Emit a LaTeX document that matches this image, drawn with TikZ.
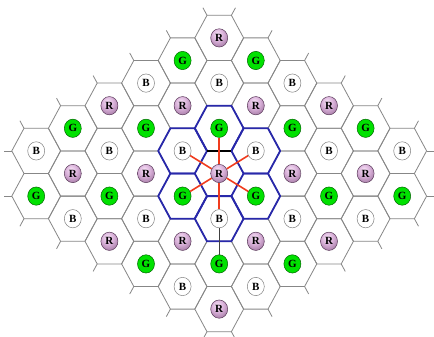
\documentclass[tikz,border=0pt]{standalone}
\usepackage{fontspec}
\usetikzlibrary{shapes.geometric}
\setmainfont{Liberation Serif}
\definecolor{hexgray}{RGB}{135,135,135}
\definecolor{hexblue}{RGB}{40,40,170}
\definecolor{linkred}{RGB}{240,60,30}
\definecolor{ggreen}{RGB}{0,225,0}
\definecolor{rlight}{RGB}{248,225,248}
\definecolor{rmid}{RGB}{215,175,215}
\definecolor{rdark}{RGB}{125,80,125}
\definecolor{bedge}{RGB}{215,215,215}
\pgfdeclareradialshading{rball}{\pgfqpoint{-6bp}{12bp}}{color(0bp)=(rlight); color(18bp)=(rmid); color(46bp)=(rdark); color(80bp)=(rdark)}
\pgfdeclareradialshading{bball}{\pgfqpoint{-6bp}{12bp}}{color(0bp)=(white); color(32bp)=(white); color(55bp)=(bedge); color(80bp)=(bedge)}
\tikzset{
  cell/.style={ellipse, minimum width=17pt, minimum height=18.3pt, inner sep=0pt, text=black,
    font=\bfseries\fontsize{11}{11}\selectfont},
  rcell/.style={cell, shade, shading=rball, draw=rdark!70!black, line width=0.5pt},
  gcell/.style={cell, fill=ggreen, draw=ggreen!45!black, line width=0.5pt},
  bcell/.style={cell, shade, shading=bball, draw=gray, line width=0.5pt},
  hexline/.style={draw=hexgray, line width=0.8pt},
  bluehex/.style={draw=hexblue, line width=1.8pt, line join=round},
  blackedge/.style={draw=black, line width=2pt},
  redlink/.style={draw=linkred, line width=1.6pt},
  thinlink/.style={draw=black!75, line width=0.7pt}
}
\begin{document}
\begin{tikzpicture}[x=1pt,y=-1pt]
\useasboundingbox (0,0) rectangle (434,337);
\fill[white] (0,0) rectangle (434,337);
\clip (0,0) rectangle (434,337);
% gray hexagon grid
\foreach \c in {-5,...,5}{
  \pgfmathtruncatemacro\n{6-abs(\c)}
  \pgfmathtruncatemacro\ma{-\n}
  \pgfmathtruncatemacro\mb{-\n+2}
  \foreach \m in {\ma,\mb,...,\n}{
    \pgfmathsetmacro\X{219.2+36.6*(\c)}
    \pgfmathsetmacro\Y{173.5+22.6*(\m)}
    \draw[hexline,shift={(\X,\Y)}] (-24.4,0) -- (-12.2,-22.6) -- (12.2,-22.6) -- (24.4,0) -- (12.2,22.6) -- (-12.2,22.6) -- cycle;
  }
}
% stubs
\foreach \c in {-5,...,0}{
  \pgfmathsetmacro\X{219.2+36.6*(\c)}
  \pgfmathsetmacro\Yt{173.5+22.6*(-6-(\c))}
  \pgfmathsetmacro\Yb{173.5+22.6*(6+(\c))}
  \draw[hexline] (\X-12.2,\Yt-22.6) -- ++(-4.07,-7.53);
  \draw[hexline] (\X-12.2,\Yb+22.6) -- ++(-4.07,7.53);
}
\foreach \c in {0,...,5}{
  \pgfmathsetmacro\X{219.2+36.6*(\c)}
  \pgfmathsetmacro\Yt{173.5+22.6*(-6+(\c))}
  \pgfmathsetmacro\Yb{173.5+22.6*(6-(\c))}
  \draw[hexline] (\X+12.2,\Yt-22.6) -- ++(4.07,-7.53);
  \draw[hexline] (\X+12.2,\Yb+22.6) -- ++(4.07,7.53);
}
\foreach \Y in {150.9,196.1}{
  \draw[hexline] (11.8,\Y) -- ++(-8.13,0);
  \draw[hexline] (426.6,\Y) -- ++(8.13,0);
}
% blue cluster
\foreach \c/\m in {0/-2,0/2,-1/-1,1/-1,-1/1,1/1}{
  \pgfmathsetmacro\X{219.2+36.6*(\c)}
  \pgfmathsetmacro\Y{173.5+22.6*(\m)}
  \draw[bluehex,shift={(\X,\Y)}] (-24.4,0) -- (-12.2,-22.6) -- (12.2,-22.6) -- (24.4,0) -- (12.2,22.6) -- (-12.2,22.6) -- cycle;
}
\draw[blackedge] (207,150.9) -- (231.4,150.9);
% cells
\foreach \c in {-5,...,5}{
  \pgfmathtruncatemacro\n{6-abs(\c)}
  \pgfmathtruncatemacro\ma{-\n}
  \pgfmathtruncatemacro\mb{-\n+2}
  \foreach \m in {\ma,\mb,...,\n}{
    \pgfmathsetmacro\X{219.2+36.6*(\c)}
    \pgfmathsetmacro\Y{173.5+22.6*(\m)}
    \pgfmathtruncatemacro\k{mod(\m-3*(\c)+36,6)}
    \pgfmathtruncatemacro\ci{\c+5}
    \pgfmathtruncatemacro\mi{\m+6}
    \ifnum\k=0 \node[rcell] (h\ci r\mi) at (\X,\Y) {R};\fi
    \ifnum\k=2 \node[bcell] (h\ci r\mi) at (\X,\Y) {B};\fi
    \ifnum\k=4 \node[gcell] (h\ci r\mi) at (\X,\Y) {G};\fi
  }
}
% links
\foreach \t in {h5r4,h5r8,h4r5,h6r5,h4r7,h6r7}{
  \draw[redlink] (h5r6) -- (\t);
}
\draw[thinlink] (h5r8) -- (h5r10);
\end{tikzpicture}
\end{document}
